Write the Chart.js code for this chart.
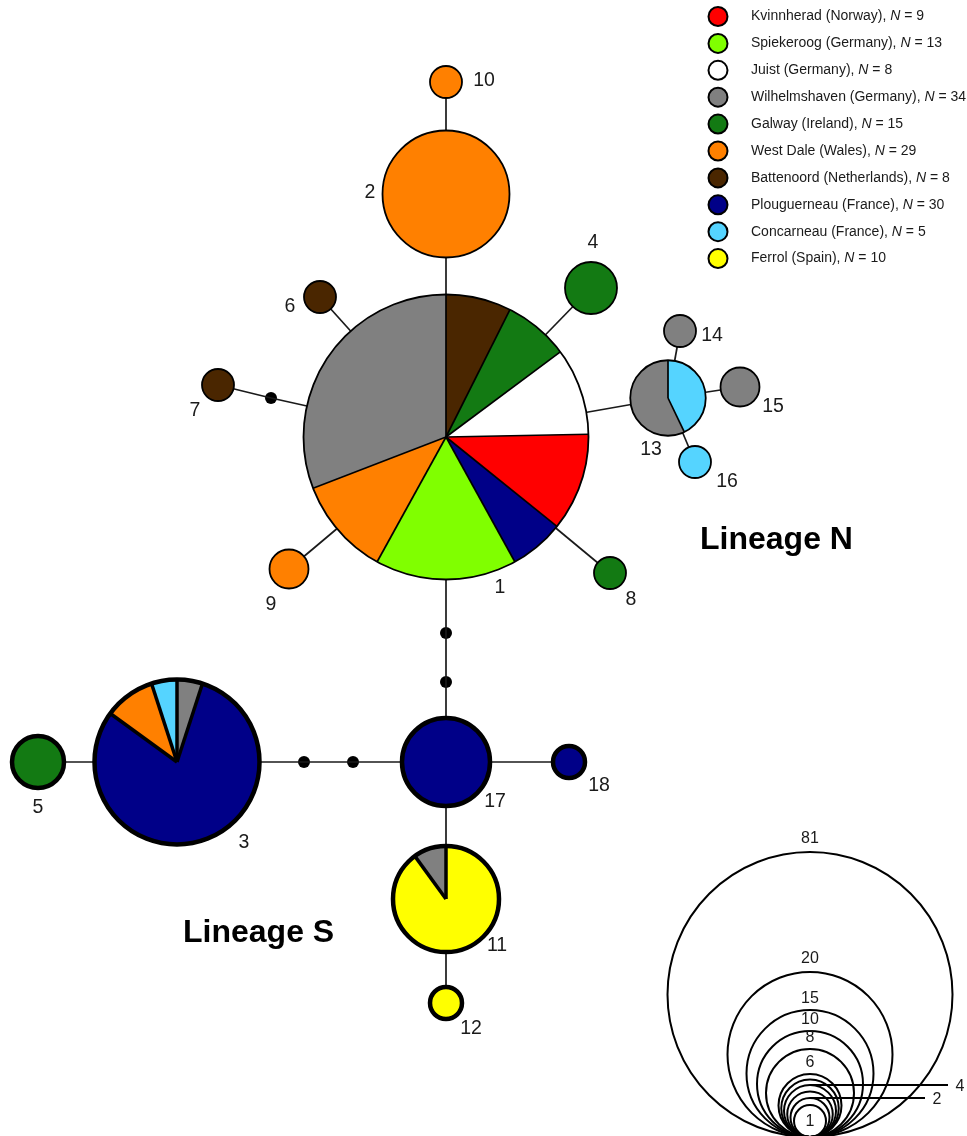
<!DOCTYPE html>
<html>
<head>
<meta charset="utf-8">
<script src="https://cdn.jsdelivr.net/npm/chart.js@4.4.1/dist/chart.umd.min.js"></script>
<style>
  html, body { margin: 0; padding: 0; background: #fff; }
  #wrap { width: 967px; height: 1136px; position: relative; }
</style>
</head>
<body>
<div id="wrap"><canvas id="chart"></canvas></div>
<script>
// populations (legend order) and their sample sizes
const populations = [
    "Kvinnherad (Norway)", "Spiekeroog (Germany)", "Juist (Germany)",
    "Wilhelmshaven (Germany)", "Galway (Ireland)", "West Dale (Wales)",
    "Battenoord (Netherlands)", "Plouguerneau (France)", "Concarneau (France)",
    "Ferrol (Spain)"
];
const popSizes = [9, 13, 8, 34, 15, 29, 8, 30, 5, 10];

// haplotype composition: [population index, count], clockwise from 12 o'clock
const haplotypes = ["1","2","3","4","5","6","7","8","9","10","11","12","13","14","15","16","17","18"];
const composition = {
    "1":  [[6, 6], [4, 6], [2, 8], [0, 9], [7, 5], [1, 13], [5, 9], [3, 25]],
    "2":  [[5, 15]],
    "3":  [[3, 1], [7, 16], [5, 2], [8, 1]],
    "4":  [[4, 4]],
    "5":  [[4, 4]],
    "6":  [[6, 1]],
    "7":  [[6, 1]],
    "8":  [[4, 1]],
    "9":  [[5, 2]],
    "10": [[5, 1]],
    "11": [[9, 9], [3, 1]],
    "12": [[9, 1]],
    "13": [[8, 3], [3, 4]],
    "14": [[3, 1]],
    "15": [[3, 2]],
    "16": [[8, 1]],
    "17": [[7, 8]],
    "18": [[7, 1]]
};
const lineageS = ["3", "5", "11", "12", "17", "18"];
const medianVectors = ["m1", "m2", "m3", "m4", "m5"];
const edges = [
    ["10", "2"], ["2", "1"], ["1", "4"], ["1", "6"], ["1", "m1"], ["m1", "7"],
    ["1", "9"], ["1", "8"], ["1", "13"], ["13", "14"], ["13", "15"], ["13", "16"],
    ["1", "m2"], ["m2", "m3"], ["m3", "17"], ["17", "18"], ["17", "m5"],
    ["m5", "m4"], ["m4", "3"], ["3", "5"], ["17", "11"], ["11", "12"]
];
// size key values (circles drawn in the corner) and which get a number
const keyValues = [1, 2, 3, 4, 5, 6, 8, 10, 15, 20, 81];
const keyLabels = [1, 2, 4, 6, 8, 10, 15, 20, 81];

// ---- layout (network coordinates) ----
const layout = {
    "1": [446, 437], "2": [446, 194], "10": [446, 82], "4": [591, 288],
    "6": [320, 297], "7": [218, 385], "m1": [271, 398], "9": [289, 569],
    "8": [610, 573], "13": [668, 398], "14": [680, 331], "15": [740, 387],
    "16": [695, 462], "m2": [446, 633], "m3": [446, 682], "17": [446, 762],
    "18": [569, 762], "m5": [353, 762], "m4": [304, 762], "3": [177, 762],
    "5": [38, 762], "11": [446, 899], "12": [446, 1003]
};
const labelPos = {
    "1": [500, 588], "2": [370, 193], "10": [484, 81], "4": [593, 243],
    "6": [290, 307], "7": [195, 411], "9": [271, 605], "8": [631, 600],
    "13": [651, 450], "14": [712, 336], "15": [773, 407], "16": [727, 482],
    "17": [495, 802], "18": [599, 786], "3": [244, 843], "5": [38, 808],
    "11": [497, 946], "12": [471, 1029]
};

// ---- styles ----
const popColors = ["#ff0000", "#80ff00", "#ffffff", "#808080", "#137a13",
                   "#ff8000", "#4a2600", "#000088", "#55d4ff", "#ffff00"];
const keyRadius = [[1, 16], [2, 19.5], [4, 26], [6, 31.5], [8, 44], [10, 53], [15, 63.5], [20, 82.5], [81, 142.5]];
const keyBase = [810, 1137];
const FONT = "'Liberation Sans', Arial, sans-serif";

function radiusFor(n) {
    for (let i = 1; i < keyRadius.length; i++) {
        const [n0, r0] = keyRadius[i - 1], [n1, r1] = keyRadius[i];
        if (n <= n1) return r0 + (r1 - r0) * (n - n0) / (n1 - n0);
    }
    return keyRadius[keyRadius.length - 1][1];
}

const edgeDatasets = edges.map(([a, b]) => ({
    type: "scatter",
    data: [{ x: layout[a][0], y: layout[a][1] }, { x: layout[b][0], y: layout[b][1] }],
    showLine: true,
    borderColor: "#1a1a1a",
    borderWidth: 1.7,
    pointRadius: 0
}));

const medianDataset = {
    type: "scatter",
    data: medianVectors.map(m => ({ x: layout[m][0], y: layout[m][1] })),
    pointRadius: 6,
    pointBackgroundColor: "#000",
    pointBorderWidth: 0
};

const networkPlugin = {
    id: "network",
    afterDatasetsDraw(chart) {
        const ctx = chart.ctx;
        const xs = chart.scales.x, ys = chart.scales.y;
        const px = v => xs.getPixelForValue(v);
        const py = v => ys.getPixelForValue(v);
        const len = r => Math.abs(px(r) - px(0));

        // haplotype pies
        haplotypes.forEach(h => {
            const parts = composition[h];
            const total = parts.reduce((s, p) => s + p[1], 0);
            const cx = px(layout[h][0]), cy = py(layout[h][1]);
            const r = len(radiusFor(total));
            const thick = lineageS.includes(h);
            ctx.save();
            ctx.lineJoin = "miter";
            let a = -Math.PI / 2;
            parts.forEach(([pop, n]) => {
                const b = a + n / total * Math.PI * 2;
                ctx.beginPath();
                if (parts.length > 1) ctx.moveTo(cx, cy);
                ctx.arc(cx, cy, r, a, b);
                ctx.closePath();
                ctx.fillStyle = popColors[pop];
                ctx.fill();
                a = b;
            });
            if (parts.length > 1) {
                a = -Math.PI / 2;
                ctx.strokeStyle = "#000";
                ctx.lineWidth = thick ? 3.5 : 1.7;
                parts.forEach(([pop, n]) => {
                    ctx.beginPath();
                    ctx.moveTo(cx, cy);
                    ctx.lineTo(cx + r * Math.cos(a), cy + r * Math.sin(a));
                    ctx.stroke();
                    a += n / total * Math.PI * 2;
                });
            }
            ctx.beginPath();
            ctx.arc(cx, cy, r, 0, Math.PI * 2);
            ctx.strokeStyle = "#000";
            ctx.lineWidth = thick ? 4.5 : 1.8;
            ctx.stroke();
            ctx.restore();

            ctx.fillStyle = "#1a1a1a";
            ctx.font = "19.5px " + FONT;
            ctx.textAlign = "center";
            ctx.textBaseline = "middle";
            ctx.fillText(h, px(labelPos[h][0]), py(labelPos[h][1]));
        });

        // lineage titles
        ctx.fillStyle = "#000";
        ctx.font = "bold 32px " + FONT;
        ctx.textAlign = "left";
        ctx.textBaseline = "middle";
        ctx.fillText("Lineage N", px(700), py(540));
        ctx.fillText("Lineage S", px(183), py(933));

        // population legend
        populations.forEach((name, i) => {
            const y = py(16.5 + i * 26.9);
            ctx.beginPath();
            ctx.arc(px(718), y, 9.5, 0, Math.PI * 2);
            ctx.fillStyle = popColors[i];
            ctx.fill();
            ctx.lineWidth = 2;
            ctx.strokeStyle = "#000";
            ctx.stroke();
            ctx.fillStyle = "#1a1a1a";
            ctx.textAlign = "left";
            ctx.textBaseline = "middle";
            let x = px(751);
            ctx.font = "14px " + FONT;
            const t1 = name + ", ";
            ctx.fillText(t1, x, y);
            x += ctx.measureText(t1).width;
            ctx.font = "italic 14px " + FONT;
            ctx.fillText("N", x, y);
            x += ctx.measureText("N").width;
            ctx.font = "14px " + FONT;
            ctx.fillText(" = " + popSizes[i], x, y);
        });

        // size key
        ctx.save();
        ctx.strokeStyle = "#000";
        ctx.lineWidth = 2;
        ctx.fillStyle = "#1a1a1a";
        ctx.font = "16px " + FONT;
        ctx.textAlign = "center";
        ctx.textBaseline = "middle";
        keyValues.slice().reverse().forEach(n => {
            const r = radiusFor(n);
            const cx = px(keyBase[0]), cy = py(keyBase[1] - r);
            ctx.beginPath();
            ctx.arc(cx, cy, len(r), 0, Math.PI * 2);
            ctx.stroke();
        });
        keyLabels.forEach(n => {
            const r = radiusFor(n);
            const top = keyBase[1] - 2 * r;
            if (n === 1) {
                ctx.fillText("1", px(keyBase[0]), py(keyBase[1] - r + 1));
            } else if (n === 4 || n === 2) {
                const end = n === 4 ? 948 : 925;
                ctx.beginPath();
                ctx.moveTo(px(keyBase[0]), py(top));
                ctx.lineTo(px(end), py(top));
                ctx.stroke();
                ctx.fillText(String(n), px(end + 12), py(top + 2));
            } else {
                ctx.fillText(String(n), px(keyBase[0]), py(top - (n >= 20 ? 13 : 11)));
            }
        });
        ctx.restore();
    }
};

const ctx = document.getElementById("chart").getContext("2d");
const chart = new Chart(ctx, {
    type: "scatter",
    data: { datasets: [...edgeDatasets, medianDataset] },
    options: {
        responsive: true,
        maintainAspectRatio: false,
        animation: false,
        layout: { padding: 0, autoPadding: false },
        plugins: {
            legend: { display: false },
            tooltip: { enabled: false }
        },
        scales: {
            x: { type: "linear", min: 0, max: 967, display: false },
            y: { type: "linear", min: 0, max: 1136, reverse: true, display: false }
        }
    },
    plugins: [networkPlugin]
});
</script>
</body>
</html>
